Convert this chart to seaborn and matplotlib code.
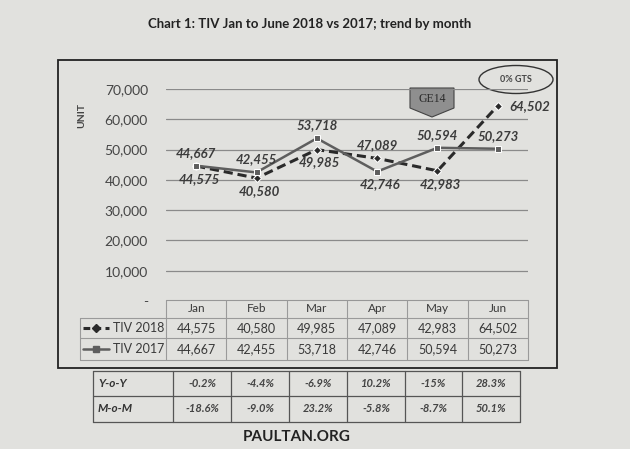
import matplotlib
matplotlib.use('Agg')
import matplotlib.pyplot as plt
import matplotlib.transforms as mtransforms
from matplotlib.patches import Rectangle, Ellipse, Polygon
from matplotlib.ticker import FuncFormatter
import pandas as pd
import seaborn as sns

# 数据
months = ['Jan', 'Feb', 'Mar', 'Apr', 'May', 'Jun']
tiv_2018 = [44575, 40580, 49985, 47089, 42983, 64502]
tiv_2017 = [44667, 42455, 53718, 42746, 50594, 50273]
yoy = ['-0.2%', '-4.4%', '-6.9%', '10.2%', '-15%', '28.3%']
mom = ['-18.6%', '-9.0%', '23.2%', '-5.8%', '-8.7%', '50.1%']

sns.set_theme(style='white')
plt.rcParams['font.family'] = ['Lato', 'DejaVu Sans']

df = pd.DataFrame({
    'month': months * 2,
    'units': tiv_2018 + tiv_2017,
    'series': ['TIV 2018'] * 6 + ['TIV 2017'] * 6,
})

paper = '#e1e1de'
c18 = '#2a2a2a'
c17 = '#5e5e5e'

fig = plt.figure(figsize=(6.3, 4.49), dpi=100, facecolor=paper)

# 背景层, 像素坐标
bg = fig.add_axes([0, 0, 1, 1], zorder=0)
bg.set_xlim(0, 630)
bg.set_ylim(449, 0)
bg.axis('off')

# 主图
ax = fig.add_axes([166 / 630, 1 - 301 / 449, 362 / 630, 212 / 449], zorder=2)
ax.set_facecolor('none')
sns.lineplot(data=df, x='month', y='units', hue='series', style='series',
             palette={'TIV 2018': c18, 'TIV 2017': c17},
             dashes={'TIV 2018': (3, 1.6), 'TIV 2017': ''},
             markers={'TIV 2018': 'D', 'TIV 2017': 's'},
             markersize=4.5, sort=False, legend=False, ax=ax)
for ln in ax.lines:
    ln.set_linewidth(2.2 if ln.get_color() == c18 else 1.8)

ax.set_xlim(-0.5, 5.5)
ax.set_ylim(0, 70000)
ax.set_yticks(range(0, 70001, 10000))
ax.yaxis.set_major_formatter(FuncFormatter(lambda v, p: '-' if v == 0 else f'{v:,.0f}'))
ax.tick_params(axis='y', length=0, pad=13, labelsize=10, labelcolor='#454545')
ax.set_xticks([])
ax.set_xlabel('')
ax.set_ylabel('')
ax.grid(axis='y', color='#8a8a8a', lw=0.9)
for s in ax.spines.values():
    s.set_visible(False)

# 数据标签
place_18 = ['below', 'below', 'below', 'above', 'below', 'right']
place_17 = ['above', 'above', 'above', 'below', 'above', 'above']
for vals, places in [(tiv_2018, place_18), (tiv_2017, place_17)]:
    for i, (v, p) in enumerate(zip(vals, places)):
        if p == 'above':
            off, ha, va = (0, 5), 'center', 'bottom'
        elif p == 'below':
            off, ha, va = (2, -5), 'center', 'top'
        else:
            off, ha, va = (8, 0), 'left', 'center'
        ax.annotate(f'{v:,}', (i, v), xytext=off, textcoords='offset points',
                    ha=ha, va=va, fontsize=9.5, style='italic', fontweight='bold',
                    color='#3c3c3c')

# 外框
bg.add_patch(Rectangle((58, 60), 499, 308, fill=False, ec='#222222', lw=1.3))

# 标题
bg.text(310, 24, 'Chart 1: TIV Jan to June 2018 vs 2017; trend by month',
        ha='center', va='center', fontsize=9.5, fontweight='bold', color='#222222')
bg.text(82, 116, 'UNIT', rotation=90, ha='center', va='center', fontsize=7.5,
        fontweight='bold', color='#444444')

# GE14 标注
bg.add_patch(Polygon([(410, 88), (454, 88), (454, 108), (432, 117), (410, 108)],
                     closed=True, fc='#8f8f8f', ec='#444444', lw=0.8))
bg.text(432, 99, 'GE14', ha='center', va='center', fontsize=8.5,
        family='Liberation Serif', color='#2a2a2a')
bg.add_patch(Ellipse((516, 79.5), 74, 28, fill=False, ec='#333333', lw=1.0))
bg.text(516, 79.5, '0% GTS', ha='center', va='center', fontsize=6.5,
        fontweight='bold', color='#444444')

# 数据表
tr = mtransforms.blended_transform_factory(ax.transData, bg.transData)
line_c = '#9a9a9a'
rows_y = [300, 318, 338, 360]
bg.plot([166, 528], [300, 300], color=line_c, lw=0.8)
for y in rows_y[1:]:
    bg.plot([80, 528], [y, y], color=line_c, lw=0.8)
bg.plot([80, 80], [318, 360], color=line_c, lw=0.8)
for i in range(7):
    ax.plot([i - 0.5, i - 0.5], [300, 360], color=line_c, lw=0.8, transform=tr, clip_on=False)

for i, m in enumerate(months):
    ax.text(i, 309, m, transform=tr, ha='center', va='center', fontsize=8.5, color='#3a3a3a')
    ax.text(i, 328, f'{tiv_2018[i]:,}', transform=tr, ha='center', va='center', fontsize=9, color='#3a3a3a')
    ax.text(i, 349, f'{tiv_2017[i]:,}', transform=tr, ha='center', va='center', fontsize=9, color='#3a3a3a')

# 表格图例
bg.plot([83, 96, 109], [328, 328, 328], color=c18, lw=2.2, dashes=(2.2, 1.4),
        marker='D', markersize=4, markevery=[1])
bg.plot([83, 96, 109], [349, 349, 349], color=c17, lw=1.8,
        marker='s', markersize=4, markevery=[1])
bg.text(113, 328, 'TIV 2018', ha='left', va='center', fontsize=9, color='#3a3a3a')
bg.text(113, 349, 'TIV 2017', ha='left', va='center', fontsize=9, color='#3a3a3a')

# 同比 / 环比表
cols_x = [93, 173, 231, 289, 347, 405, 462, 520]
low_y = [371, 396, 422]
for y in low_y:
    bg.plot([cols_x[0], cols_x[-1]], [y, y], color='#555555', lw=0.9)
for x in cols_x:
    bg.plot([x, x], [low_y[0], low_y[-1]], color='#555555', lw=0.9)
for r, (name, vals) in enumerate([('Y-o-Y', yoy), ('M-o-M', mom)]):
    yc = (low_y[r] + low_y[r + 1]) / 2
    bg.text(98, yc, name, ha='left', va='center', fontsize=8.5, style='italic',
            fontweight='bold', color='#333333')
    for j, v in enumerate(vals):
        bg.text((cols_x[j + 1] + cols_x[j + 2]) / 2, yc, v, ha='center', va='center',
                fontsize=8, style='italic', fontweight='bold', color='#444444')

bg.text(297, 437, 'PAULTAN.ORG', ha='center', va='center', fontsize=11,
        fontweight='bold', color='#222222')

fig.savefig('out.png', dpi=100, facecolor=paper)
